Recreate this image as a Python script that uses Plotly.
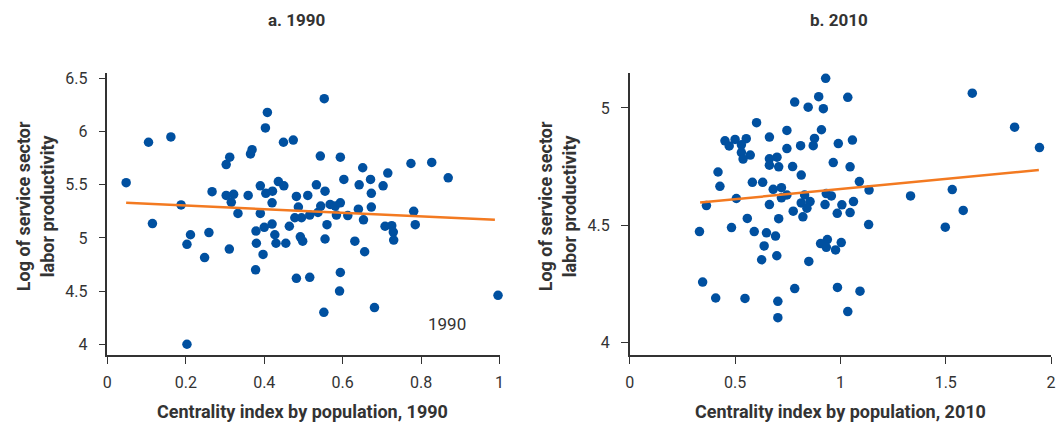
import plotly.graph_objects as go

# ---- data: panel a (1990) ----
x1990 = [0.048, 0.105, 0.162, 0.188, 0.115, 0.267, 0.303, 0.312, 0.303, 0.322,
         0.316, 0.333, 0.365, 0.369, 0.359, 0.390, 0.390, 0.403, 0.408, 0.404,
         0.421, 0.420, 0.420, 0.400, 0.379, 0.436, 0.450, 0.449, 0.474, 0.482,
         0.487, 0.478, 0.495, 0.511, 0.516, 0.464, 0.259, 0.553, 0.543, 0.594,
         0.651, 0.715, 0.774, 0.827, 0.869, 0.603, 0.671, 0.642, 0.703, 0.533,
         0.555, 0.673, 0.544, 0.568, 0.581, 0.594, 0.640, 0.673, 0.584, 0.613,
         0.653, 0.781, 0.785, 0.560, 0.537, 0.708, 0.725, 0.212, 0.203, 0.248,
         0.311, 0.427, 0.380, 0.430, 0.455, 0.397, 0.378, 0.492, 0.498, 0.482,
         0.516, 0.203, 0.555, 0.631, 0.656, 0.729, 0.730, 0.594, 0.592, 0.552,
         0.681, 0.996]
y1990 = [5.52, 5.90, 5.95, 5.31, 5.135, 5.435, 5.69, 5.76, 5.40, 5.41,
         5.335, 5.23, 5.79, 5.83, 5.40, 5.49, 5.23, 6.035, 6.18, 5.42,
         5.44, 5.33, 5.13, 5.10, 5.065, 5.53, 5.49, 5.90, 5.92, 5.39,
         5.29, 5.19, 5.19, 5.40, 5.215, 5.11, 5.05, 6.31, 5.77, 5.76,
         5.66, 5.61, 5.70, 5.71, 5.565, 5.55, 5.55, 5.50, 5.49, 5.50,
         5.44, 5.42, 5.30, 5.315, 5.30, 5.33, 5.27, 5.29, 5.215, 5.21,
         5.17, 5.25, 5.125, 5.125, 5.24, 5.11, 5.115, 5.03, 4.94, 4.815,
         4.895, 5.03, 4.95, 4.95, 4.95, 4.845, 4.70, 5.01, 4.97, 4.62,
         4.63, 4.00, 4.99, 4.97, 4.87, 5.055, 4.98, 4.675, 4.50, 4.30,
         4.345, 4.46]
fit1990_x = [0.048, 0.988]
fit1990_y = [5.33, 5.17]

# ---- data: panel b (2010) ----
x2010 = [0.930, 0.897, 0.783, 0.847, 0.919, 0.602, 0.910, 0.746, 0.663, 0.877,
         0.452, 0.500, 0.553, 0.472, 0.530, 0.811, 0.871, 0.746, 0.990, 0.530,
         0.572, 0.538, 0.663, 0.699, 0.663, 0.707, 0.773, 0.966, 0.419, 0.814,
         0.428, 0.582, 0.631, 0.681, 0.720, 0.720, 0.746, 0.830, 0.933, 0.957,
         0.506, 0.364, 0.663, 0.814, 0.856, 0.841, 0.927, 0.985, 0.776, 0.822,
         0.558, 0.707, 0.483, 0.331, 0.591, 0.649, 1.035, 1.626, 1.827, 1.945,
         1.057, 1.046, 1.090, 1.136, 1.007, 1.062, 1.046, 1.134, 1.333, 1.531,
         1.583, 1.498, 0.692, 0.638, 0.626, 0.698, 0.850, 0.906, 0.938, 0.933,
         0.977, 0.346, 0.408, 0.547, 0.703, 0.783, 0.703, 0.986, 1.004, 1.093,
         1.035]
y2010 = [5.126, 5.048, 5.025, 5.003, 4.997, 4.937, 4.907, 4.904, 4.876, 4.870,
         4.860, 4.866, 4.869, 4.838, 4.843, 4.839, 4.839, 4.827, 4.848, 4.810,
         4.799, 4.782, 4.783, 4.790, 4.756, 4.749, 4.750, 4.767, 4.727, 4.714,
         4.666, 4.683, 4.683, 4.653, 4.660, 4.617, 4.629, 4.629, 4.635, 4.625,
         4.614, 4.584, 4.588, 4.595, 4.601, 4.573, 4.588, 4.551, 4.560, 4.536,
         4.529, 4.528, 4.490, 4.473, 4.473, 4.468, 5.045, 5.063, 4.918, 4.831,
         4.863, 4.749, 4.686, 4.650, 4.587, 4.601, 4.554, 4.503, 4.625, 4.652,
         4.563, 4.492, 4.454, 4.412, 4.353, 4.370, 4.346, 4.422, 4.439, 4.406,
         4.395, 4.258, 4.190, 4.188, 4.176, 4.230, 4.106, 4.235, 4.426, 4.219,
         4.132]
fit2010_x = [0.334, 1.942]
fit2010_y = [4.597, 4.735]

xticks1990 = [0, 0.2, 0.4, 0.6, 0.8, 1]
xticklabels1990 = ["0", "0.2", "0.4", "0.6", "0.8", "1"]
yticks1990 = [4, 4.5, 5, 5.5, 6, 6.5]
yticklabels1990 = ["4", "4.5", "5", "5.5", "6", "6.5"]
xticks2010 = [0, 0.5, 1, 1.5, 2]
xticklabels2010 = ["0", "0.5", "1", "1.5", "2"]
yticks2010 = [4, 4.5, 5]
yticklabels2010 = ["4", "4.5", "5"]

BLUE = "#0050A0"
ORANGE = "#F37A21"
DARK = "#333333"
FONT = "Roboto, Open Sans, sans-serif"

fig = go.Figure()
fig.add_trace(go.Scatter(x=x1990, y=y1990, mode="markers", xaxis="x", yaxis="y",
                         marker=dict(color=BLUE, size=9.5), cliponaxis=False,
                         showlegend=False))
fig.add_trace(go.Scatter(x=fit1990_x, y=fit1990_y, mode="lines", xaxis="x", yaxis="y",
                         line=dict(color=ORANGE, width=2.5), showlegend=False))
fig.add_trace(go.Scatter(x=x2010, y=y2010, mode="markers", xaxis="x2", yaxis="y2",
                         marker=dict(color=BLUE, size=9.5), cliponaxis=False,
                         showlegend=False))
fig.add_trace(go.Scatter(x=fit2010_x, y=fit2010_y, mode="lines", xaxis="x2", yaxis="y2",
                         line=dict(color=ORANGE, width=2.5), showlegend=False))

axis_common = dict(showgrid=False, zeroline=False, showline=True, linecolor=DARK,
                   linewidth=1.5, ticks="outside", ticklen=7, tickcolor=DARK,
                   tickwidth=1.2, tickfont=dict(family=FONT, size=16, color=DARK))

fig.update_layout(
    width=1062, height=423,
    margin=dict(l=0, r=0, t=0, b=0),
    paper_bgcolor="white", plot_bgcolor="white",
    font=dict(family=FONT, color=DARK),
    xaxis=dict(domain=[103.3 / 1062, 499.3 / 1062], range=[0, 1], anchor="y",
               tickvals=xticks1990, ticktext=xticklabels1990, ticklabelstandoff=5,
               **axis_common),
    yaxis=dict(domain=[1 - 354.3 / 423, 1 - 70 / 423], range=[3.901, 6.556], anchor="x",
               tickvals=yticks1990, ticktext=yticklabels1990, ticklabelstandoff=8,
               **axis_common),
    xaxis2=dict(domain=[630.7 / 1062, 1056 / 1062], range=[0, 2], anchor="y2",
                tickvals=xticks2010, ticktext=xticklabels2010, ticklabelstandoff=5,
                **axis_common),
    yaxis2=dict(domain=[1 - 354.3 / 423, 1 - 70 / 423], range=[3.948, 5.151], anchor="x2",
                tickvals=yticks2010, ticktext=yticklabels2010, ticklabelstandoff=8,
                **axis_common),
)

title_font = dict(family=FONT, size=18, color=DARK)
panel_font = dict(family=FONT, size=17, color=DARK)
for text, xc in [("<b>a. 1990</b>", 294), ("<b>b. 2010</b>", 842)]:
    fig.add_annotation(xref="paper", yref="paper", x=xc / 1062, y=1 - 17 / 423, text=text,
                       showarrow=False, xanchor="center", yanchor="middle", font=panel_font)
for text, xc in [("<b>Centrality index by population, 1990</b>", 300),
                 ("<b>Centrality index by population, 2010</b>", 843)]:
    fig.add_annotation(xref="paper", yref="paper", x=xc / 1062, y=1 - 411 / 423, text=text,
                       showarrow=False, xanchor="center", yanchor="middle", font=title_font)
for xc in [30 / 1062, 557 / 1062]:
    fig.add_annotation(xref="paper", yref="paper", x=xc, y=1 - 205 / 423,
                       text="<b>Log of service sector<br>labor productivity</b>",
                       textangle=-90, showarrow=False, xanchor="center", yanchor="middle",
                       font=title_font)
fig.add_annotation(xref="x", yref="y", x=0.867, y=4.187, text="1990", showarrow=False,
                   xanchor="center", yanchor="middle",
                   font=dict(family=FONT, size=17, color=DARK))

fig.write_html("out.html")
